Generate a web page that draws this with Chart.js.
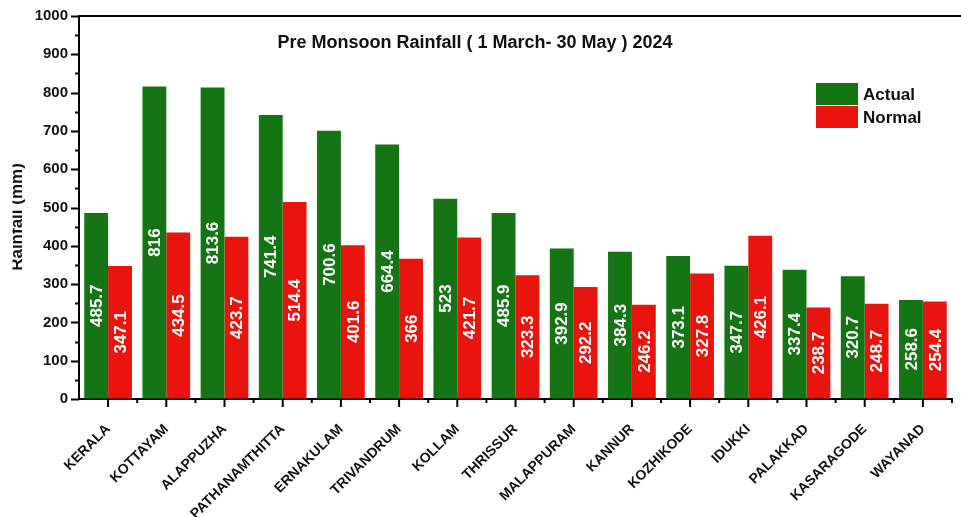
<html>
<head>
  <script src="https://cdn.jsdelivr.net/npm/chart.js@4.4.1/dist/chart.umd.min.js"></script>
  <style>
    body { margin: 0; background: #fff; }
  </style>
</head>
<body>
  <canvas id="rainChart" width="961" height="517"></canvas>

<script>
  // Districts and rainfall (mm).
  const districts = ['KERALA', 'KOTTAYAM', 'ALAPPUZHA', 'PATHANAMTHITTA', 'ERNAKULAM', 'TRIVANDRUM', 'KOLLAM',
    'THRISSUR', 'MALAPPURAM', 'KANNUR', 'KOZHIKODE', 'IDUKKI', 'PALAKKAD', 'KASARAGODE', 'WAYANAD'];
  const actualRain = [485.7, 816, 813.6, 741.4, 700.6, 664.4, 523, 485.9, 392.9, 384.3, 373.1, 347.7, 337.4, 320.7, 258.6];
  const normalRain = [347.1, 434.5, 423.7, 514.4, 401.6, 366, 421.7, 323.3, 292.2, 246.2, 327.8, 426.1, 238.7, 248.7, 254.4];
  const yMin = 0, yMax = 1000, yStep = 100;

  const GREEN = '#157515';
  const RED = '#e8140d';
  const FONT = '"Liberation Sans", Arial, sans-serif';

  // Axes ticks, frame top line, title, legend, value labels.
  const decor = {
    id: 'decor',
    afterDatasetsDraw(chart) {
      const ctx = chart.ctx;
      const area = chart.chartArea;
      const x = chart.scales.x;
      const y = chart.scales.y;

      ctx.save();
      ctx.strokeStyle = '#000';

      // y ticks (major every 100, minor every 50)
      for (let v = yMin; v <= yMax; v += yStep / 2) {
        const py = Math.round(y.getPixelForValue(v)) + 0.5;
        const major = v % yStep === 0;
        ctx.lineWidth = 2;
        ctx.beginPath();
        ctx.moveTo(area.left - (major ? 8 : 4), py);
        ctx.lineTo(area.left, py);
        ctx.stroke();
      }

      // x ticks: major at category centres, minor at boundaries
      const w = (area.right - area.left) / districts.length;
      for (let i = 0; i <= districts.length; i++) {
        const bx = area.left + i * w;
        if (i > 0) {
          ctx.beginPath();
          ctx.moveTo(bx, area.bottom);
          ctx.lineTo(bx, area.bottom + 4);
          ctx.stroke();
        }
        if (i < districts.length) {
          const cx = x.getPixelForValue(i);
          ctx.beginPath();
          ctx.moveTo(cx, area.bottom);
          ctx.lineTo(cx, area.bottom + 8);
          ctx.stroke();
        }
      }

      // top line of the frame
      ctx.lineWidth = 2;
      ctx.beginPath();
      ctx.moveTo(area.left, area.top);
      ctx.lineTo(chart.width, area.top);
      ctx.stroke();

      // value labels in the middle of each bar
      ctx.fillStyle = '#fff';
      ctx.font = 'bold 17px ' + FONT;
      ctx.textAlign = 'center';
      ctx.textBaseline = 'middle';
      chart.data.datasets.forEach((ds, di) => {
        chart.getDatasetMeta(di).data.forEach((bar, i) => {
          ctx.save();
          ctx.translate(bar.x, (bar.y + bar.base) / 2);
          ctx.rotate(-Math.PI / 2);
          ctx.fillText(String(ds.data[i]), 0, 1);
          ctx.restore();
        });
      });

      // title inside the plot
      ctx.fillStyle = '#111';
      ctx.font = 'bold 18px ' + FONT;
      ctx.fillText('Pre Monsoon Rainfall ( 1 March- 30 May ) 2024', 475, 43);

      // legend
      const items = [['Actual', GREEN], ['Normal', RED]];
      items.forEach(([label, color], k) => {
        const top = 83 + k * 23;
        ctx.fillStyle = color;
        ctx.fillRect(816, top, 42, 22);
        ctx.fillStyle = '#111';
        ctx.font = 'bold 17px ' + FONT;
        ctx.textAlign = 'left';
        ctx.fillText(label, 863, top + 12);
      });

      // y axis title, cut at the left edge like the original
      ctx.beginPath();
      ctx.rect(12.5, 0, 60, chart.height);
      ctx.clip();
      ctx.translate(21.5, 217);
      ctx.rotate(-Math.PI / 2);
      ctx.textAlign = 'center';
      ctx.textBaseline = 'alphabetic';
      ctx.font = 'bold 17px ' + FONT;
      ctx.fillText('Rainfall (mm)', 0, 0);
      ctx.restore();
    }
  };

  new Chart(document.getElementById('rainChart'), {
    type: 'bar',
    data: {
      labels: districts,
      datasets: [
        { label: 'Actual', data: actualRain, backgroundColor: GREEN },
        { label: 'Normal', data: normalRain, backgroundColor: RED }
      ]
    },
    options: {
      responsive: false,
      animation: false,
      layout: { padding: { top: 16, right: 9, left: 0, bottom: 0 } },
      datasets: { bar: { categoryPercentage: 0.82, barPercentage: 1 } },
      plugins: { legend: { display: false }, tooltip: { enabled: false } },
      scales: {
        x: {
          grid: { color: 'transparent', tickLength: 8 },
          border: { display: true, color: '#000', width: 2 },
          ticks: {
            color: '#111',
            font: { family: FONT, size: 14, weight: 'bold' },
            maxRotation: 45, minRotation: 45,
            autoSkip: false,
            padding: 14
          },
          afterFit(scale) { scale.height = 118; }
        },
        y: {
          min: yMin, max: yMax,
          grid: { color: 'transparent', tickLength: 9 },
          border: { display: true, color: '#000', width: 2 },
          ticks: {
            stepSize: yStep,
            color: '#111',
            font: { family: FONT, size: 15, weight: 'bold' },
            padding: 2,
            callback: (v) => String(v)
          },
          afterFit(scale) { scale.width = 79; }
        }
      }
    },
    plugins: [decor]
  });
</script>
</body>
</html>
